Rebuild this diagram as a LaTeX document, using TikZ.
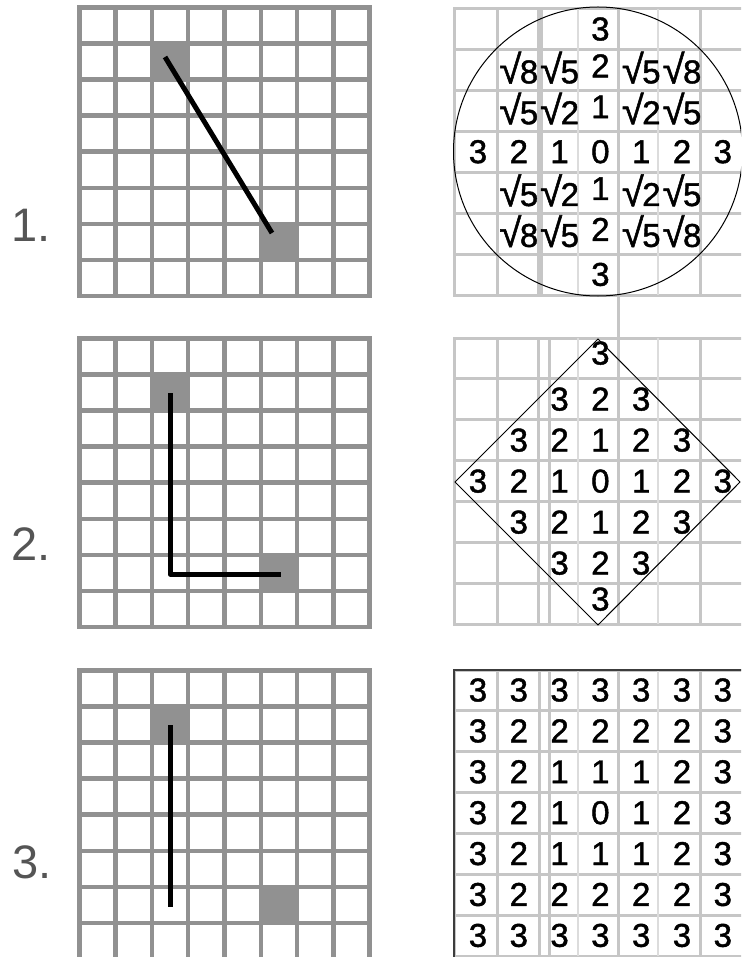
\documentclass[tikz,border=0pt]{standalone}
\usepackage{fontspec}
\setmainfont{Liberation Sans}
\newfontfamily\numfont[FakeBold=1.3]{Liberation Sans}
\newcommand\sq[1]{{\fontsize{40}{40}\selectfont √}\kern-1.5pt#1}
\definecolor{lgray}{HTML}{919191}
\definecolor{rgray}{HTML}{C6C6C6}
\definecolor{rlightc}{HTML}{DCDCDC}
\definecolor{labgray}{HTML}{555555}
\definecolor{edgec}{HTML}{3C3C3C}
\newcommand\leftgridat[1]{%
  \fill[lgray] (151.9,{#1+2.3+36.1}) rectangle (188.2,{#1+2.3+72.2});
  \fill[lgray] (260.8,{#1+2.3+216.6}) rectangle (297.1,{#1+2.3+252.7});
  \foreach \i in {0,...,8} {
    \draw[gline] ({79.3+36.3*\i},{#1+2.3}) -- ({79.3+36.3*\i},{#1+2.3+288.8});
    \draw[gline] (79.3,{#1+2.3+36.1*\i}) -- (369.7,{#1+2.3+36.1*\i});
  }
}
\newcommand\rightgridat[3]{%
  \foreach \j in {0,...,7}
    \draw[rline] (454,{#1+40.9*\j}) -- (745,{#1+40.9*\j});
  \foreach \xx in {454,497,#2,#3,618,700}
    \draw[rline] (\xx,#1) -- (\xx,{#1+286.3});
  \foreach \xx in {578,658}
    \draw[rlight] (\xx,#1) -- (\xx,{#1+286.3});
}
\begin{document}
\begin{tikzpicture}[x=1pt,y=-1pt,
  gline/.style={draw=lgray, line width=4.5pt, line cap=rect},
  rline/.style={draw=rgray, line width=3pt, line cap=rect},
  rlight/.style={draw=rlightc, line width=2pt},
  pline/.style={draw=black, line width=5pt, line join=round},
  shape line/.style={draw=black, line width=1pt},
  num/.style={font=\numfont\fontsize{33}{33}\selectfont, inner sep=0pt, anchor=base},
  lbl/.style={font=\fontsize{47}{47}\selectfont, text=labgray, anchor=base west, inner sep=0pt}]
\useasboundingbox (0,0) rectangle (741,957);
\clip (0,0) rectangle (741,957);
\fill[white] (0,0) rectangle (741,957);

% ---------- left grids ----------
\leftgridat{5}
\leftgridat{336}
\leftgridat{668}

% paths
\coordinate (a1) at (165,57);
\coordinate (a2) at (272,233);
\draw[pline] (a1) -- (a2);
\coordinate (b1) at (170,393);
\coordinate (b2) at (170,574);
\coordinate (b3) at (281,574);
\draw[pline] (b1) -- (b2) -- (b3);
\coordinate (c1) at (170,725);
\coordinate (c2) at (170,907);
\draw[pline] (c1) -- (c2);

% labels
\node[lbl] (lab1) at (11,242) {1.};
\node[lbl] (lab2) at (11,560) {2.};
\node[lbl] (lab3) at (12,878) {3.};

% ---------- right grids ----------
\rightgridat{9}{538}{541}
\rightgridat{338}{538}{549}
\rightgridat{670}{539}{549}
\coordinate (v1) at (618,295);
\coordinate (v2) at (618,338);
\draw[rline] (v1) -- (v2);
\draw[edgec, line width=2pt] (454,957) -- (454,670) -- (745,670);

% panel 1: Euclidean
\foreach \r/\c/\t/\d in {
 0/3/3/0,
 1/1/\sq8/2, 1/2/\sq5/2, 1/3/2/-4, 1/4/\sq5/2, 1/5/\sq8/2,
 2/1/\sq5/2, 2/2/\sq2/2, 2/3/1/-4, 2/4/\sq2/2, 2/5/\sq5/2,
 3/0/3/0, 3/1/2/0, 3/2/1/0, 3/3/0/0, 3/4/1/0, 3/5/2/0, 3/6/3/0,
 4/1/\sq5/2, 4/2/\sq2/2, 4/3/1/-4, 4/4/\sq2/2, 4/5/\sq5/2,
 5/1/\sq8/2, 5/2/\sq5/2, 5/3/2/-4, 5/4/\sq5/2, 5/5/\sq8/2,
 6/3/3/0}
  \node[num] (pa-\r-\c) at ({478+40.8*\c},{29.4+40.9*\r+11+\d}) {\t};
\coordinate (ce1) at (598,151.5);
\draw[shape line] (ce1) circle[radius=144.5pt];

% panel 2: city block
\foreach \r in {0,...,6} {
  \foreach \c in {0,...,6} {
    \pgfmathtruncatemacro\v{abs(\r-3)+abs(\c-3)}
    \pgfmathsetmacro\dd{(\r==0 || \r==6) ? -5 : 0}
    \ifnum\v<4
      \node[num] (pb-\r-\c) at ({478+40.8*\c},{358.5+41*\r+11+\dd}) {\v};
    \fi
  }
}
\coordinate (dt) at (598,339);
\coordinate (dr) at (740,482);
\coordinate (db) at (598,625);
\coordinate (dl) at (455,482);
\draw[shape line] (dt) -- (dr) -- (db) -- (dl) -- cycle;

% panel 3: chessboard
\foreach \r in {0,...,6} {
  \foreach \c in {0,...,6} {
    \pgfmathtruncatemacro\v{max(abs(\r-3),abs(\c-3))}
    \node[num] (pc-\r-\c) at ({478+40.8*\c},{690.4+40.9*\r+11}) {\v};
  }
}
\end{tikzpicture}
\end{document}
